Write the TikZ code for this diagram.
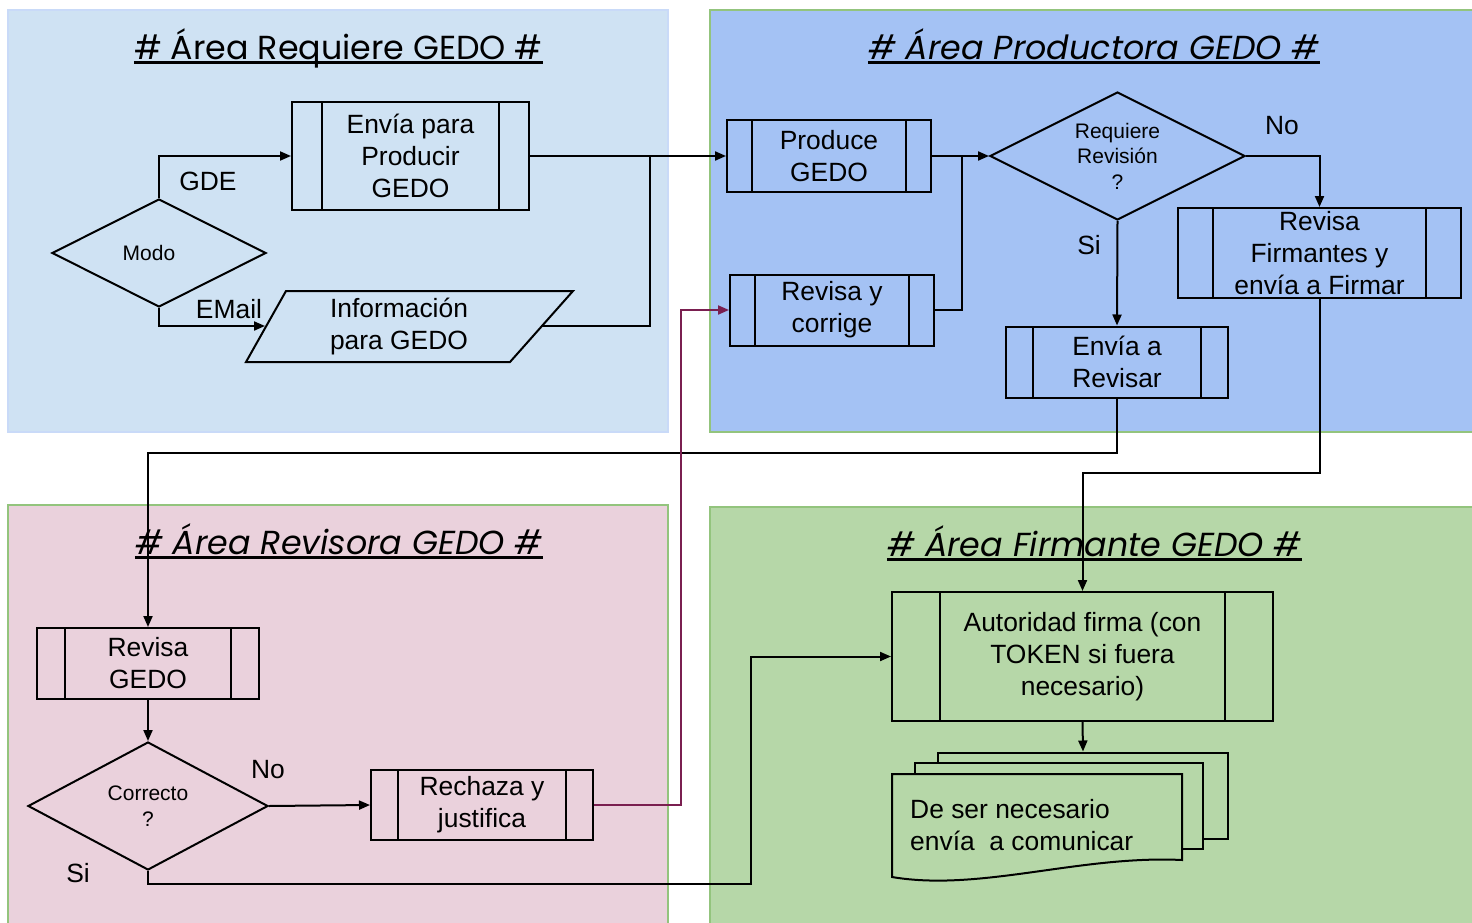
\documentclass[tikz,border=0pt]{standalone}
\usepackage{fontspec}
\setmainfont{Liberation Sans}
\newfontfamily\titlefont{Poppins}
\usetikzlibrary{shapes.geometric,arrows.meta}
\definecolor{pA}{HTML}{CFE2F3}
\definecolor{pAb}{HTML}{C9DAF8}
\definecolor{pB}{HTML}{A4C2F4}
\definecolor{pC}{HTML}{EAD1DC}
\definecolor{pD}{HTML}{B6D7A8}
\definecolor{gb}{HTML}{93C47D}
\definecolor{maroon}{HTML}{7A1F50}
\begin{document}
\begin{tikzpicture}[x=1pt,y=-1pt,
  txt/.style={font=\fontsize{26.4}{32}\selectfont, align=center, inner sep=0pt},
  stxt/.style={font=\fontsize{21}{25.5}\selectfont, align=center, inner sep=0pt},
  proc/.style args={#1/#2/#3}{draw, line width=2pt, rectangle, minimum width=#1, minimum height=#2, inner sep=0pt,
    font=\fontsize{26.4}{32}\selectfont, align=center,
    path picture={\draw[line width=2pt] ([xshift=#3]path picture bounding box.north west) -- ([xshift=#3]path picture bounding box.south west)
      ([xshift=-#3]path picture bounding box.north east) -- ([xshift=-#3]path picture bounding box.south east);}},
  dia/.style args={#1/#2}{draw, line width=2pt, diamond, aspect=2, minimum width=#1, minimum height=#2, inner sep=0pt,
    font=\fontsize{21}{25.5}\selectfont, align=center},
  arr/.style={line width=2pt, -{Triangle[length=11pt,width=9pt]}},
  ln/.style={line width=2pt},
  ttl/.style={font=\titlefont\fontsize{33.3}{38}\selectfont, inner sep=0pt, anchor=base},
  ttli/.style={font=\titlefont\itshape\fontsize{33.3}{38}\selectfont, inner sep=0pt, anchor=base},
  uline/.style={line width=2.5pt}
]
\useasboundingbox (0,0) rectangle (1472,923);
% panels
\draw[fill=pA, draw=pAb, line width=2pt] (8,10) rectangle (668,432);
\draw[fill=pB, draw=gb, line width=2pt] (710,10) rectangle (1476,432);
\draw[fill=pC, draw=gb, line width=2pt] (8,505) rectangle (668,927);
\draw[fill=pD, draw=gb, line width=2pt] (710,507) rectangle (1476,927);
% titles
\node[ttl] (t1) at (338.5,59.5) {\# Área Requiere GEDO \#};
\draw[uline] ([yshift=-3pt]t1.base west) -- ([yshift=-3pt]t1.base east);
\node[ttli] (t2) at (1094,59.5) {\# Área Productora GEDO \#};
\draw[uline] ([yshift=-3pt]t2.base west) -- ([yshift=-3pt]t2.base east);
\node[ttli] (t3) at (339,554.5) {\# Área Revisora GEDO \#};
\draw[uline] ([yshift=-3pt]t3.base west) -- ([yshift=-3pt]t3.base east);
\node[ttli] (t4) at (1094.5,556.5) {\# Área Firmante GEDO \#};
\draw[uline] ([yshift=-3pt]t4.base west) -- ([yshift=-3pt]t4.base east);
% area requiere
\node[proc=237/108/30] (envia) at (410.5,156) {Envía para\\Producir\\GEDO};
\node[dia=214/108] (modo) at (159,253) {};
\node[stxt] (modot) at (149,253) {Modo};
\draw[ln] (286,291) -- (573,291) -- (510,362) -- (246,362) -- cycle;
\node[txt] (info) at (399,327) {Información\\para GEDO};
\coordinate (pL) at (265,326);
\coordinate (pR) at (541,326);
% area productora
\node[proc=204/71/25] (produce) at (829,156) {Produce\\GEDO};
\node[proc=204/71/25] (revcorr) at (832,310) {Revisa y\\corrige};
\node[dia=255/128] (req) at (1117.5,156) {Requiere\\Revisión\\?};
\node[proc=283/90/35] (revfirm) at (1319.5,253) {Revisa\\Firmantes y\\envía a Firmar};
\node[proc=222/71/27] (envrev) at (1117,362) {Envía a\\Revisar};
% area revisora
\node[proc=222/71/28] (revgedo) at (148,663.5) {Revisa\\GEDO};
\node[dia=240/128] (corr) at (148,806) {Correcto\\?};
\node[proc=222/70/27] (rech) at (482,805) {Rechaza y\\justifica};
% area firmante
\node[proc=381/129/48] (autor) at (1082.5,656.5) {Autoridad firma (con\\TOKEN si fuera\\necesario)};
\node[draw, line width=2pt, fill=pD, minimum width=290, minimum height=86, inner sep=0pt] (docback) at (1083,795.5) {};
\draw[ln, fill=pD] (915,763) rectangle (1203,849);
\draw[ln, fill=pD] (892,774) -- (1182,774) -- (1182,860) .. controls (1080,855) and (980,892) .. (892,877) -- cycle;
\node[txt, anchor=west, align=left] (doct) at (910,825) {De ser necesario\\envía\ \ a comunicar};
% junction coordinates
\coordinate (j1) at (650,156);
\coordinate (j2) at (962,156);
\coordinate (j3) at (148,453);
\coordinate (j4) at (1082.5,473);
\coordinate (j5) at (681,805);
\coordinate (j6) at (751,884);
% connectors
\draw[arr] (modo.north) |- (envia.west);
\draw[arr] (modo.south) |- (pL);
\draw[arr] (envia.east) -- (produce.west);
\draw[ln] (pR) -| (j1);
\draw[arr] (produce.east) -- (req.west);
\draw[ln] (revcorr.east) -| (j2);
\draw[arr] (req.east) -| (revfirm.north);
\draw[arr] (req.south) -- (envrev.north);
\draw[arr] (envrev.south) |- (j3) -- (revgedo.north);
\draw[arr] (revfirm.south) |- (j4) -- (autor.north);
\draw[arr] (revgedo.south) -- (corr.north);
\draw[arr] (corr.east) -- (rech.west);
\draw[arr, color=maroon] (rech.east) -- (j5) |- (revcorr.west);
\draw[arr] (corr.south) |- (j6) |- (autor.west);
\draw[arr] (autor.south) -- (docback.north);
% labels
\node[txt] (lgde) at (208,181) {GDE};
\node[txt] (lemail) at (229,309) {EMail};
\node[txt] (lno1) at (1282,126) {No};
\node[txt] (lsi1) at (1089,245) {Si};
\node[txt] (lno2) at (268,770) {No};
\node[txt] (lsi2) at (78,873) {Si};
\end{tikzpicture}
\end{document}
